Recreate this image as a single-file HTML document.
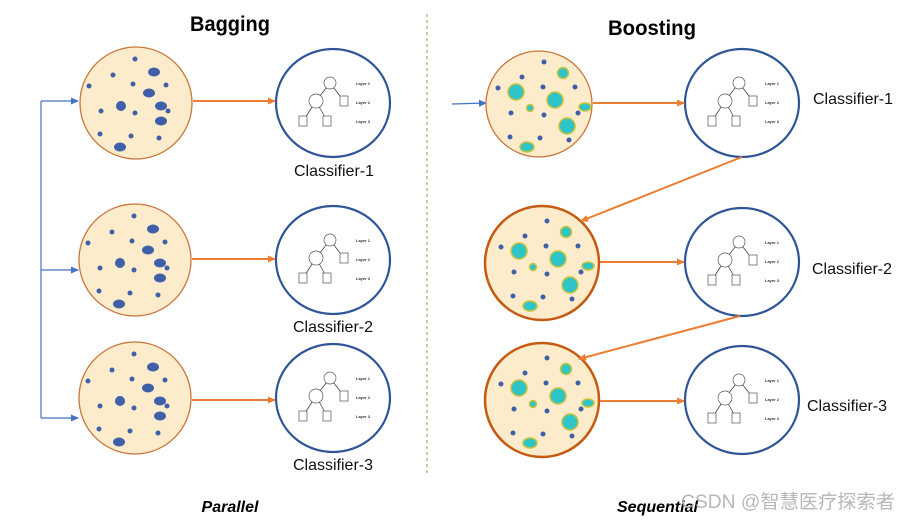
<!DOCTYPE html>
<html><head><meta charset="utf-8"><style>
html,body{margin:0;padding:0;background:#fff;}
svg{display:block;font-family:"Liberation Sans","Noto Sans CJK SC",sans-serif;}
</style></head><body>
<svg width="910" height="522" viewBox="0 0 910 522" xmlns="http://www.w3.org/2000/svg">
<defs>
<marker id="ao" markerWidth="8" markerHeight="8" refX="7" refY="4" orient="auto" markerUnits="userSpaceOnUse"><path d="M0,0.5 L8,4 L0,7.5 z" fill="#ed7d31"/></marker>
<marker id="ab" markerWidth="8" markerHeight="8" refX="7" refY="4" orient="auto" markerUnits="userSpaceOnUse"><path d="M0,0.5 L8,4 L0,7.5 z" fill="#4472c4"/></marker>
<g id="bagdots" fill="#3f5fa8">
<circle cx="-1" cy="-44" r="2.5"/><circle cx="-23" cy="-28" r="2.5"/><ellipse cx="18" cy="-31" rx="6" ry="4.5"/>
<circle cx="-47" cy="-17" r="2.5"/><circle cx="-3" cy="-19" r="2.5"/><circle cx="30" cy="-18" r="2.5"/>
<ellipse cx="13" cy="-10" rx="6" ry="4.5"/><ellipse cx="-15" cy="3" rx="5" ry="5"/><ellipse cx="25" cy="3" rx="6" ry="4.5"/>
<circle cx="-35" cy="8" r="2.5"/><circle cx="-1" cy="10" r="2.5"/><circle cx="32" cy="8" r="2.5"/>
<ellipse cx="25" cy="18" rx="6" ry="4.5"/><circle cx="-36" cy="31" r="2.5"/><circle cx="-5" cy="33" r="2.5"/>
<circle cx="23" cy="35" r="2.5"/><ellipse cx="-16" cy="44" rx="6" ry="4.5"/>
</g>
<g id="boostdots">
<g fill="#3f5fa8">
<circle cx="5" cy="-42" r="2.5"/><circle cx="-17" cy="-27" r="2.5"/><circle cx="-41" cy="-16" r="2.5"/>
<circle cx="4" cy="-17" r="2.5"/><circle cx="36" cy="-17" r="2.5"/><circle cx="-28" cy="9" r="2.5"/>
<circle cx="5" cy="11" r="2.5"/><circle cx="39" cy="9" r="2.5"/><circle cx="-29" cy="33" r="2.5"/>
<circle cx="1" cy="34" r="2.5"/><circle cx="30" cy="36" r="2.5"/>
</g>
<g fill="#2ec4c8" stroke="#c9c23a" stroke-width="1.5">
<circle cx="24" cy="-31" r="5.5"/><circle cx="-23" cy="-12" r="8"/><circle cx="16" cy="-4" r="8"/>
<circle cx="-9" cy="4" r="3.5"/><ellipse cx="46" cy="3" rx="6" ry="4"/><circle cx="28" cy="22" r="8"/>
<ellipse cx="-12" cy="43" rx="7" ry="5"/>
</g>
</g>
<g id="tree" font-size="3" fill="#333">
<g stroke="#333" stroke-width="0.7" fill="none">
<line x1="-3" y1="-20" x2="-17" y2="-2"/><line x1="-3" y1="-20" x2="11" y2="-2"/>
<line x1="-17" y1="-2" x2="-30" y2="18"/><line x1="-17" y1="-2" x2="-6" y2="18"/>
</g>
<circle cx="-3" cy="-20" r="6" fill="#fff" stroke="#555" stroke-width="0.7"/>
<circle cx="-17" cy="-2" r="7" fill="#fff" stroke="#555" stroke-width="0.7"/>
<rect x="7" y="-7" width="8" height="10" fill="#fff" stroke="#555" stroke-width="0.7"/>
<rect x="-34" y="13" width="8" height="10" fill="#fff" stroke="#555" stroke-width="0.7"/>
<rect x="-10" y="13" width="8" height="10" fill="#fff" stroke="#555" stroke-width="0.7"/>
<text x="23" y="-18" font-size="4" font-weight="bold">Layer 1</text>
<text x="23" y="1" font-size="4" font-weight="bold">Layer 2</text>
<text x="23" y="20" font-size="4" font-weight="bold">Layer 3</text>
</g>
</defs>

<text x="230" y="31" font-size="21" font-weight="bold" text-anchor="middle" textLength="80" lengthAdjust="spacingAndGlyphs">Bagging</text>
<text x="652" y="35" font-size="21" font-weight="bold" text-anchor="middle" textLength="88" lengthAdjust="spacingAndGlyphs">Boosting</text>

<line x1="427" y1="14" x2="427" y2="476" stroke="#70ad47" stroke-width="1" stroke-dasharray="3,3"/>

<g stroke="#4472c4" stroke-width="1.2" fill="none">
<line x1="41" y1="101" x2="41" y2="418"/>
<line x1="41" y1="101" x2="78" y2="101" marker-end="url(#ab)"/>
<line x1="41" y1="270" x2="78" y2="270" marker-end="url(#ab)"/>
<line x1="41" y1="418" x2="78" y2="418" marker-end="url(#ab)"/>
<line x1="452" y1="104" x2="486" y2="103" marker-end="url(#ab)"/>
</g>

<g fill="#fdeccb" stroke="#c9753a" stroke-width="1.3">
<circle cx="136" cy="103" r="56"/><circle cx="135" cy="260" r="56"/><circle cx="135" cy="398" r="56"/>
</g>
<use href="#bagdots" x="136" y="103"/><use href="#bagdots" x="135" y="260"/><use href="#bagdots" x="135" y="398"/>

<circle cx="539" cy="104" r="53" fill="#fdeccb" stroke="#c9753a" stroke-width="1.3"/>
<circle cx="542" cy="263" r="57" fill="#fdeccb" stroke="#c55a11" stroke-width="2.5"/>
<circle cx="542" cy="400" r="57" fill="#fdeccb" stroke="#c55a11" stroke-width="2.5"/>
<use href="#boostdots" x="539" y="104"/><use href="#boostdots" x="542" y="263"/><use href="#boostdots" x="542" y="400"/>

<g fill="#fff" stroke="#2f5597" stroke-width="2.2">
<ellipse cx="333" cy="103" rx="57" ry="54"/><ellipse cx="333" cy="260" rx="57" ry="54"/><ellipse cx="333" cy="398" rx="57" ry="54"/>
<ellipse cx="742" cy="103" rx="57" ry="54"/><ellipse cx="742" cy="262" rx="57" ry="54"/><ellipse cx="742" cy="400" rx="57" ry="54"/>
</g>
<use href="#tree" x="333" y="103"/><use href="#tree" x="333" y="260"/><use href="#tree" x="333" y="398"/>
<use href="#tree" x="742" y="103"/><use href="#tree" x="742" y="262"/><use href="#tree" x="742" y="400"/>

<g stroke="#ed7d31" stroke-width="2" fill="none">
<line x1="193" y1="101" x2="275" y2="101" marker-end="url(#ao)"/>
<line x1="192" y1="259" x2="275" y2="259" marker-end="url(#ao)"/>
<line x1="192" y1="400" x2="275" y2="400" marker-end="url(#ao)"/>
<line x1="593" y1="103" x2="684" y2="103" marker-end="url(#ao)"/>
<line x1="600" y1="262" x2="684" y2="262" marker-end="url(#ao)"/>
<line x1="600" y1="401" x2="684" y2="401" marker-end="url(#ao)"/>
<line x1="742" y1="157" x2="581" y2="221" marker-end="url(#ao)"/>
<line x1="740" y1="316" x2="579" y2="359" marker-end="url(#ao)"/>
</g>

<g font-size="16" fill="#111">
<text x="334" y="176" text-anchor="middle">Classifier-1</text>
<text x="333" y="332" text-anchor="middle">Classifier-2</text>
<text x="333" y="470" text-anchor="middle">Classifier-3</text>
<text x="813" y="104">Classifier-1</text>
<text x="812" y="274">Classifier-2</text>
<text x="807" y="411">Classifier-3</text>
</g>
<text x="230" y="512" font-size="16" font-weight="bold" font-style="italic" text-anchor="middle">Parallel</text>
<text x="617" y="512" font-size="16" font-weight="bold" font-style="italic">Sequential</text>
<text x="681" y="508" font-size="19" fill="#aaa" fill-opacity="0.85" textLength="214" lengthAdjust="spacingAndGlyphs">CSDN @智慧医疗探索者</text>
</svg>
</body></html>
